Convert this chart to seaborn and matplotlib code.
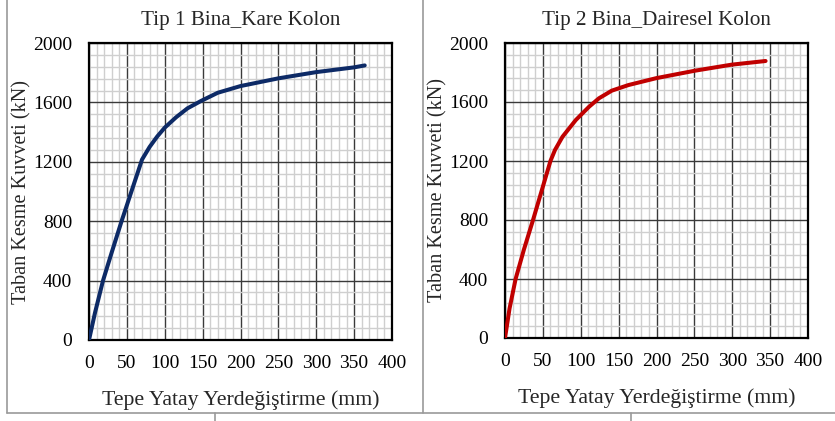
import matplotlib
matplotlib.use("Agg")
import matplotlib.pyplot as plt
from matplotlib.lines import Line2D
from matplotlib.ticker import MultipleLocator
import seaborn as sns
import pandas as pd

# Pushover curves: top displacement (mm) vs base shear (kN)
tip1_disp = [0, 8, 18.5, 30, 43, 56, 70, 80, 90, 100, 115, 130, 148, 170,
             200, 250, 300, 350, 364]
tip1_shear = [0, 185, 400, 590, 800, 1000, 1215, 1300, 1370, 1430, 1500, 1560,
              1610, 1665, 1710, 1762, 1804, 1836, 1849]

tip2_disp = [0, 6, 14, 25, 37, 48.5, 60, 66, 76, 93.5, 111, 124, 141, 163,
             200, 250.5, 299, 344]
tip2_shear = [0, 200, 400, 600, 800, 1000, 1200, 1275, 1365, 1478, 1568, 1625,
              1677, 1715, 1762, 1812, 1853, 1878]

titles = ["Tip 1 Bina_Kare Kolon", "Tip 2 Bina_Dairesel Kolon"]
xlabel = "Tepe Yatay Yerdeğiştirme (mm)"
ylabel = "Taban Kesme Kuvveti (kN)"
x_ticks = [0, 50, 100, 150, 200, 250, 300, 350, 400]
y_ticks = [0, 400, 800, 1200, 1600, 2000]

sns.set_theme(style="white")
plt.rcParams["font.family"] = ["Liberation Serif", "DejaVu Serif"]

W, H = 835, 421
fig = plt.figure(figsize=(W / 100, H / 100), dpi=100)


def px_axes(left, top, right, bottom):
    return fig.add_axes([left / W, 1 - bottom / H, (right - left) / W, (bottom - top) / H])


panels = [
    (px_axes(89, 43, 392, 340), tip1_disp, tip1_shear, "#0D2A66", titles[0]),
    (px_axes(505, 43, 808, 338), tip2_disp, tip2_shear, "#C00000", titles[1]),
]

for ax, xs, ys, color, title in panels:
    df = pd.DataFrame({"disp": xs, "shear": ys})
    ax.set_xlim(0, 400)
    ax.set_ylim(0, 2000)
    ax.xaxis.set_major_locator(MultipleLocator(50))
    ax.xaxis.set_minor_locator(MultipleLocator(10))
    ax.yaxis.set_major_locator(MultipleLocator(400))
    ax.yaxis.set_minor_locator(MultipleLocator(80))
    ax.grid(which="minor", color="#cfcfcf", linewidth=1.0)
    ax.grid(which="major", color="#3a3a3a", linewidth=1.0)
    ax.set_axisbelow(True)
    sns.lineplot(data=df, x="disp", y="shear", sort=False, estimator=None,
                 color=color, linewidth=2.9, ax=ax, zorder=5)
    line = ax.get_lines()[-1]
    line.set_solid_joinstyle("round")
    line.set_solid_capstyle("round")
    ax.set_xticks(x_ticks)
    ax.set_yticks(y_ticks)
    ax.tick_params(which="both", length=0, labelsize=14, colors="black")
    ax.tick_params(axis="y", pad=12)
    ax.tick_params(axis="x", pad=11)
    for s in ax.spines.values():
        s.set_visible(True)
        s.set_color("black")
        s.set_linewidth(1.6)
    ax.set_title(title, fontsize=15.2, pad=13)
    ax.set_xlabel(xlabel, fontsize=15.7, labelpad=13)
    ax.set_ylabel(ylabel, fontsize=14.6, labelpad=1)

# Table-style cell borders around the two panels
border = "#9a9a9a"
for xs, ys in [
    ([7, 7], [0, 413]),
    ([422.5, 422.5], [0, 413]),
    ([7, 835], [413, 413]),
    ([215, 215], [413, 421]),
    ([631, 631], [413, 421]),
]:
    fig.add_artist(Line2D([x / W for x in xs], [1 - y / H for y in ys],
                          color=border, linewidth=1.2))

fig.savefig("out.png", dpi=100)
